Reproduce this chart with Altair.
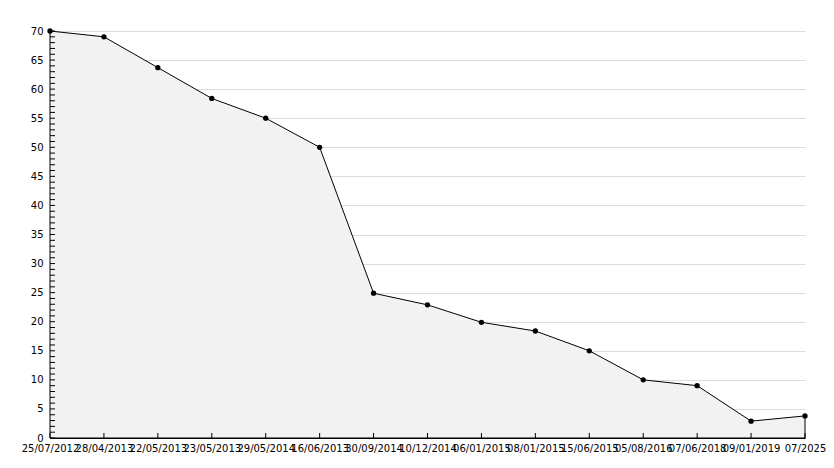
import altair as alt
import pandas as pd

dates = ["25/07/2012", "28/04/2013", "22/05/2013", "23/05/2013", "29/05/2014",
         "16/06/2013", "30/09/2014", "10/12/2014", "06/01/2015", "08/01/2015",
         "15/06/2015", "05/08/2016", "07/06/2018", "09/01/2019", "07/2025"]
values = [70, 69, 63.7, 58.4, 55, 50, 24.9, 22.9, 19.9, 18.4, 15, 10, 9, 2.9, 3.8]
minor_ticks = list(range(0, 71))

df = pd.DataFrame({"d": dates, "v": values, "i": list(range(len(dates)))})
ticks_df = pd.DataFrame({"t": minor_ticks})

W, H = 755, 407
FONT = "DejaVu Sans"

xaxis = alt.Axis(title=None, labelExpr=f"{dates}[datum.value]", labelAngle=0,
                 labelFont=FONT, labelFontSize=10, labelColor="#000",
                 ticks=False, domainColor="#000", labelPadding=5,
                 labelOverlap=False, labelBound=False, labelFlush=False)
yaxis = alt.Axis(title=None, values=list(range(0, 71, 5)), grid=True,
                 gridColor="#dcdcdc", labelFont=FONT, labelFontSize=10,
                 labelColor="#000", ticks=False, domainColor="#000",
                 labelPadding=7, labelOverlap=False, labelFlush=False,
                 labelBound=False)
xscale = alt.Scale(type="point", padding=0)
yscale = alt.Scale(domain=[0, 70], nice=False)

x = alt.X("i:O", sort=None, scale=xscale, axis=xaxis)
y = alt.Y("v:Q", scale=yscale, axis=yaxis)

base = alt.Chart(df)
area = base.mark_area(color="#f2f2f2", opacity=1, stroke="#000", strokeWidth=1).encode(x=x, y=y)
pts = base.mark_point(shape="circle", size=28, filled=True, color="#000", opacity=1).encode(x=x, y=y)

xt = base.mark_rule(color="#000").encode(x=x, y=alt.value(H), y2=alt.value(H - 5))
yt = alt.Chart(ticks_df).mark_rule(color="#000").encode(
    y=alt.Y("t:Q", scale=yscale, axis=yaxis, title=None),
    x=alt.value(0), x2=alt.value(5))

chart = alt.layer(area, xt, yt, pts).properties(
    width=W, height=H,
    autosize=alt.AutoSizeParams(type="none"),
    padding={"left": 42, "top": 23, "right": 21, "bottom": 22},
    background="white",
).configure_view(stroke=None)

chart.save("out.html", embed_options={"renderer": "svg", "actions": False})
